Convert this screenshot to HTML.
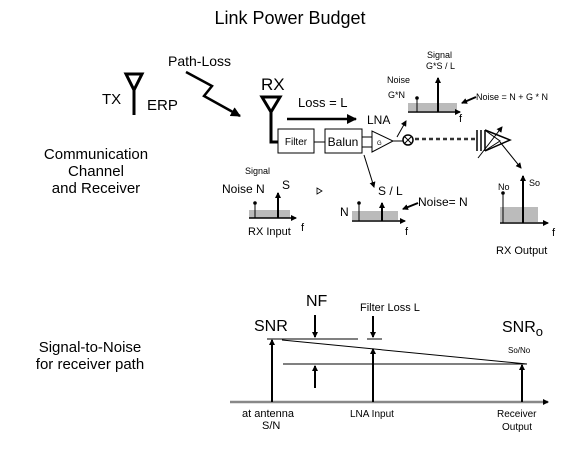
<!DOCTYPE html>
<html><head><meta charset="utf-8"><style>
html,body{margin:0;padding:0;background:#fff}
svg{display:block}
text{font-family:"Liberation Sans",sans-serif;fill:#000}
</style></head><body>
<svg width="588" height="475" viewBox="0 0 588 475" xmlns="http://www.w3.org/2000/svg">
<defs>
<marker id="ah" markerWidth="6" markerHeight="6" refX="5" refY="3" orient="auto" markerUnits="userSpaceOnUse"><path d="M0,0 L6,3 L0,6 z" fill="#000"/></marker>
<marker id="ab" markerWidth="10" markerHeight="10" refX="9" refY="5" orient="auto" markerUnits="userSpaceOnUse"><path d="M0,0 L10,5 L0,10 z" fill="#000"/></marker>
</defs>
<text x="290" y="24" font-size="18" text-anchor="middle">Link Power Budget</text>
<!-- TX -->
<text x="102" y="104" font-size="15">TX</text>
<path d="M126,74 L142,74 L134,90 z M134,90 L134,115" fill="none" stroke="#000" stroke-width="3"/>
<text x="147" y="110" font-size="15">ERP</text>
<text x="168" y="66" font-size="14">Path-Loss</text>
<path d="M186,72 L212,86 L204,96 L240,116" fill="none" stroke="#000" stroke-width="2.5" marker-end="url(#ab)"/>
<!-- RX -->
<text x="261" y="90" font-size="17">RX</text>
<path d="M262,97 L280,97 L271,112 z M271,112 L271,142 L278,142" fill="none" stroke="#000" stroke-width="3"/>
<text x="298" y="107" font-size="13">Loss = L</text>
<line x1="287" y1="119" x2="356" y2="119" stroke="#000" stroke-width="2.5" marker-end="url(#ab)"/>
<rect x="278" y="129" width="36" height="24" fill="#fff" stroke="#000"/>
<text x="296" y="145" font-size="10" text-anchor="middle">Filter</text>
<line x1="314" y1="142" x2="325" y2="142" stroke="#000"/>
<rect x="325" y="129" width="37" height="24" fill="#fff" stroke="#000"/>
<text x="343" y="146" font-size="12" text-anchor="middle">Balun</text>
<text x="367" y="124" font-size="12">LNA</text>
<line x1="362" y1="137" x2="372" y2="137" stroke="#000"/>
<line x1="362" y1="147" x2="372" y2="147" stroke="#000"/>
<path d="M372,131 L372,152 L393,141 z" fill="#fff" stroke="#000"/>
<text x="377" y="145" font-size="6">G</text>
<line x1="393" y1="141" x2="403" y2="141" stroke="#000"/>
<circle cx="408" cy="140" r="5" fill="#fff" stroke="#000" stroke-width="1.5"/>
<path d="M405,137 L411,143 M411,137 L405,143" stroke="#000"/>
<line x1="415" y1="139" x2="476" y2="139" stroke="#333" stroke-width="2.5" stroke-dasharray="4,3"/>
<!-- final amp -->
<path d="M477,130 L477,151 M481,130 L481,151 M485,130 L485,151 M485,130 L510,140 L485,151" fill="none" stroke="#000" stroke-width="1.5"/>
<path d="M486,131 L500,141 L486,150" fill="none" stroke="#000"/>
<line x1="478" y1="158" x2="502" y2="127" stroke="#000" marker-end="url(#ah)"/>
<line x1="500" y1="142" x2="521" y2="168" stroke="#000" marker-end="url(#ah)"/>
<line x1="397" y1="137" x2="406" y2="121" stroke="#000" marker-end="url(#ah)"/>
<line x1="364" y1="155" x2="374" y2="187" stroke="#000" marker-end="url(#ah)"/>
<!-- LNA output spectrum -->
<text x="427" y="58" font-size="9">Signal</text>
<text x="426" y="69" font-size="9">G*S / L</text>
<text x="387" y="83" font-size="9">Noise</text>
<text x="388" y="98" font-size="9">G*N</text>
<rect x="408" y="103" width="49" height="8" fill="#bbb"/>
<line x1="408" y1="112" x2="460" y2="112" stroke="#000" stroke-width="1.5" marker-end="url(#ah)"/>
<line x1="417" y1="112" x2="417" y2="99" stroke="#000"/><circle cx="417" cy="98" r="1.8"/>
<line x1="438" y1="112" x2="438" y2="78" stroke="#000" stroke-width="2" marker-end="url(#ah)"/>
<text x="459" y="122" font-size="11">f</text>
<line x1="476" y1="97" x2="462" y2="103" stroke="#000" stroke-width="2" marker-end="url(#ah)"/>
<text x="476" y="100" font-size="9">Noise = N + G * N</text>
<!-- RX input spectrum -->
<text x="245" y="174" font-size="9">Signal</text>
<text x="282" y="189" font-size="12">S</text>
<text x="222" y="193" font-size="12">Noise N</text>
<rect x="249" y="210" width="41" height="8" fill="#bbb"/>
<line x1="249" y1="218" x2="296" y2="218" stroke="#000" stroke-width="1.5" marker-end="url(#ah)"/>
<line x1="255" y1="218" x2="255" y2="204" stroke="#000"/><circle cx="255" cy="203" r="1.8"/>
<line x1="278" y1="218" x2="278" y2="193" stroke="#000" stroke-width="2" marker-end="url(#ah)"/>
<text x="248" y="235" font-size="11">RX Input</text>
<text x="301" y="231" font-size="11">f</text>
<path d="M317,188 L322,191 L317,194 z" fill="none" stroke="#000" stroke-width="0.8"/>
<!-- middle spectrum -->
<text x="378" y="195" font-size="12">S / L</text>
<text x="340" y="216" font-size="12">N</text>
<rect x="352" y="211" width="46" height="9" fill="#bbb"/>
<line x1="352" y1="221" x2="405" y2="221" stroke="#000" stroke-width="1.5" marker-end="url(#ah)"/>
<line x1="359" y1="221" x2="359" y2="204" stroke="#000"/><circle cx="359" cy="203" r="1.8"/>
<line x1="382" y1="221" x2="382" y2="203" stroke="#000" stroke-width="2" marker-end="url(#ah)"/>
<text x="405" y="235" font-size="11">f</text>
<line x1="418" y1="203" x2="403" y2="209" stroke="#000" stroke-width="2" marker-end="url(#ah)"/>
<text x="418" y="206" font-size="12">Noise= N</text>
<!-- RX output -->
<text x="498" y="190" font-size="9">No</text>
<text x="529" y="186" font-size="9">So</text>
<rect x="500" y="207" width="38" height="15" fill="#bbb"/>
<line x1="500" y1="223" x2="548" y2="223" stroke="#000" stroke-width="1.5" marker-end="url(#ah)"/>
<line x1="503" y1="223" x2="503" y2="194" stroke="#000"/><circle cx="503" cy="193" r="1.8"/>
<line x1="523" y1="223" x2="523" y2="176" stroke="#000" stroke-width="2" marker-end="url(#ah)"/>
<text x="552" y="236" font-size="11">f</text>
<text x="496" y="254" font-size="11">RX Output</text>
<!-- left labels -->
<text x="96" y="159" font-size="15" text-anchor="middle">Communication</text>
<text x="96" y="176" font-size="15" text-anchor="middle">Channel</text>
<text x="96" y="193" font-size="15" text-anchor="middle">and Receiver</text>
<text x="90" y="352" font-size="15" text-anchor="middle">Signal-to-Noise</text>
<text x="90" y="369" font-size="15" text-anchor="middle">for receiver path</text>
<!-- bottom -->
<line x1="230" y1="402" x2="548" y2="402" stroke="#888" stroke-width="2.5" marker-end="url(#ah)"/>
<text x="254" y="331" font-size="16">SNR</text>
<text x="306" y="306" font-size="16">NF</text>
<text x="360" y="311" font-size="11">Filter Loss L</text>
<text x="502" y="332" font-size="16">SNR<tspan font-size="13" dy="4">o</tspan></text>
<text x="508" y="353" font-size="8">So/No</text>
<line x1="267" y1="339" x2="358" y2="339" stroke="#000"/>
<line x1="367" y1="339" x2="382" y2="339" stroke="#000"/>
<line x1="282" y1="340" x2="527" y2="364" stroke="#000"/>
<line x1="283" y1="364" x2="527" y2="364" stroke="#000"/>
<line x1="272" y1="402" x2="272" y2="340" stroke="#000" stroke-width="2" marker-end="url(#ah)"/>
<line x1="373" y1="402" x2="373" y2="349" stroke="#000" stroke-width="2" marker-end="url(#ah)"/>
<line x1="522" y1="402" x2="522" y2="365" stroke="#000" stroke-width="2" marker-end="url(#ah)"/>
<line x1="315" y1="315" x2="315" y2="337" stroke="#000" stroke-width="2" marker-end="url(#ah)"/>
<line x1="315" y1="388" x2="315" y2="366" stroke="#000" stroke-width="2" marker-end="url(#ah)"/>
<line x1="373" y1="316" x2="373" y2="337" stroke="#000" stroke-width="2" marker-end="url(#ah)"/>
<text x="242" y="417" font-size="11">at antenna</text>
<text x="262" y="429" font-size="11">S/N</text>
<text x="350" y="417" font-size="10">LNA Input</text>
<text x="497" y="417" font-size="10">Receiver</text>
<text x="502" y="430" font-size="10">Output</text>
</svg>
</body></html>
